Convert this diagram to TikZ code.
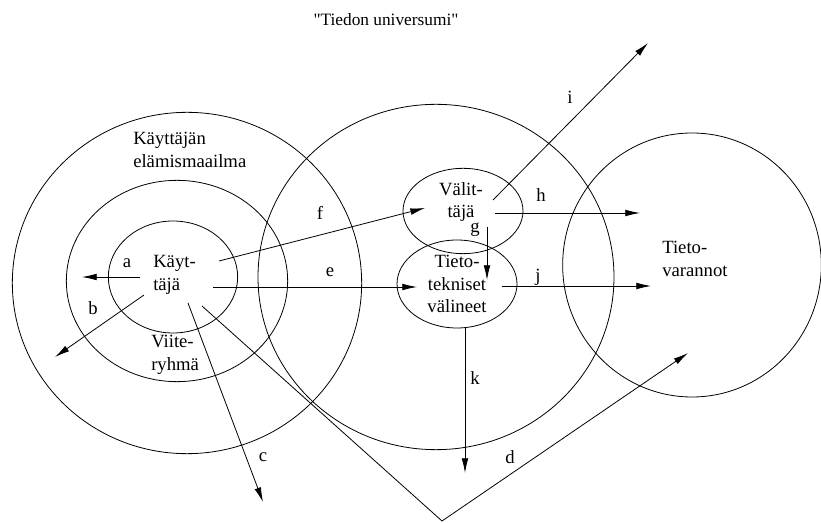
\documentclass[tikz,border=0pt]{standalone}
\usepackage{fontspec}
\setmainfont[Ligatures=TeXOff]{Liberation Serif}
\usetikzlibrary{arrows.meta,shapes.geometric}

\begin{document}
\begin{tikzpicture}[
  x=0.75pt,y=-0.75pt,
  font=\fontsize{14}{17}\selectfont,
  ring/.style={draw,ellipse,line width=0.6pt,inner sep=0pt},
  txt/.style={align=left,inner sep=0pt,anchor=west},
  lbl/.style={inner sep=0pt},
  arr/.style={->,line width=0.6pt},
  >={Latex[length=11pt,width=5pt]}]
\useasboundingbox (0,0) rectangle (821,523);

\node[font=\fontsize{13}{15}\selectfont] (title) at (386,20) {"Tiedon universumi"};

% circles
\node[ring,minimum width=262pt,minimum height=256pt] (world) at (187,283) {};
\node[ring,minimum width=166pt,minimum height=151pt] (group) at (177,281) {};
\node[ring,minimum width=97pt,minimum height=84pt] (user) at (173,277) {};
\node[ring,minimum width=267pt,minimum height=259pt] (univ) at (436,277) {};
\node[ring,minimum width=194pt,minimum height=198pt] (store) at (692,265) {};
\node[ring,minimum width=90pt,minimum height=64pt] (broker) at (463,211) {};
\node[ring,minimum width=90pt,minimum height=66pt,align=center] (tech) at (457,284)
  {Tieto-\\tekniset\\välineet};

% texts
\node[txt] (worldtxt) at (133,150) {Käyttäjän\\elämismaailma};
\node[txt] (usertxt) at (153,275) {Käyt-\\täjä};
\node[txt] (grouptxt) at (151,355) {Viite-\\ryhmä};
\node[align=center,inner sep=0pt] (brokertxt) at (461,202) {Välit-\\täjä};
\node[txt] (storetxt) at (662,259) {Tieto-\\varannot};

% arrow ends
\coordinate (ua) at (140,277); \coordinate (aend) at (82,277);
\coordinate (ub) at (144,295); \coordinate (bend) at (55,357);
\coordinate (uc) at (188,303); \coordinate (cend) at (263,502);
\coordinate (ud) at (202,306); \coordinate (dturn) at (442,521); \coordinate (dend) at (688,353);
\coordinate (ue) at (213,287); \coordinate (eend) at (417,287);
\coordinate (uf) at (219,261); \coordinate (fend) at (425,208);
\coordinate (bg) at (487,227); \coordinate (gend) at (487,280);
\coordinate (bh) at (495,213); \coordinate (hend) at (640,213);
\coordinate (bi) at (493,200); \coordinate (iend) at (648,43);
\coordinate (tj) at (502,286); \coordinate (jend) at (651,286);
\coordinate (tk) at (465,327); \coordinate (kend) at (465,473);

% arrows
\draw[arr] (ua) -- (aend);
\draw[arr] (ub) -- (bend);
\draw[arr] (uc) -- (cend);
\draw[arr] (ud) -- (dturn) -- (dend);
\draw[arr] (ue) -- (eend);
\draw[arr] (uf) -- (fend);
\draw[arr] (bg) -- (gend);
\draw[arr] (bh) -- (hend);
\draw[arr] (bi) -- (iend);
\draw[arr] (tj) -- (jend);
\draw[arr] (tk) -- (kend);

% letters
\node[lbl] (la) at (127,263) {a};
\node[lbl] (lb) at (93,308) {b};
\node[lbl] (lc) at (263,457) {c};
\node[lbl] (ld) at (510,457) {d};
\node[lbl] (le) at (330,272) {e};
\node[lbl] (lf) at (320,213) {f};
\node[lbl] (lg) at (475,230) {g};
\node[lbl] (lh) at (541,195) {h};
\node[lbl] (li) at (570,97) {i};
\node[lbl] (lj) at (538,277) {j};
\node[lbl] (lk) at (475,378) {k};
\end{tikzpicture}
\end{document}
